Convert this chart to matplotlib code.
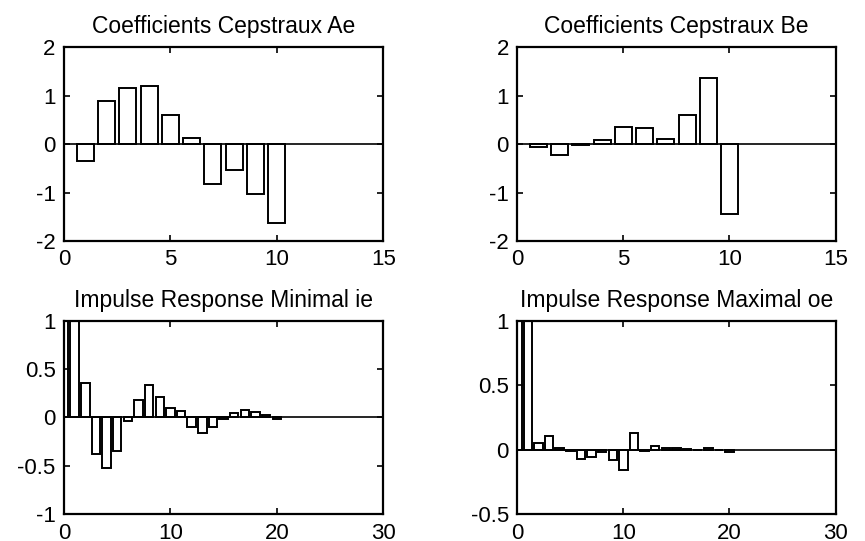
import numpy as np
import matplotlib
matplotlib.use("Agg")
import matplotlib.pyplot as plt

# Valeurs
n_ceps = [1, 2, 3, 4, 5, 6, 7, 8, 9, 10]
ae = [-0.34, 0.89, 1.15, 1.20, 0.60, 0.13, -0.82, -0.53, -1.03, -1.62]
be = [-0.06, -0.22, -0.03, 0.08, 0.36, 0.32, 0.10, 0.60, 1.37, -1.44]

n_imp = list(range(21))
ie = [1.0, 1.3, 0.36, -0.38, -0.52, -0.35, -0.04, 0.18, 0.33, 0.21, 0.10,
      0.07, -0.10, -0.16, -0.10, -0.02, 0.05, 0.08, 0.06, 0.025, -0.015]
oe = [1.0, 1.3, 0.05, 0.11, 0.015, -0.01, -0.075, -0.06, -0.02, -0.08, -0.155,
      0.133, -0.012, 0.027, 0.013, 0.013, 0.003, 0.0, 0.015, 0.0, -0.02]

titres = ["Coefficients Cepstraux Ae", "Coefficients Cepstraux Be",
          "Impulse Response Minimal ie", "Impulse Response Maximal oe"]

plt.rcParams['font.family'] = ['Liberation Sans', 'DejaVu Sans']
plt.rcParams['axes.unicode_minus'] = False

fig = plt.figure(figsize=(8.65, 5.41), dpi=100)

# positions des axes (en fraction de la figure)
positions = [[0.074, 0.5545, 0.369, 0.3586],
             [0.598, 0.5545, 0.368, 0.3586],
             [0.074, 0.0494, 0.369, 0.358],
             [0.598, 0.0494, 0.368, 0.358]]

donnees = [(n_ceps, ae), (n_ceps, be), (n_imp, ie), (n_imp, oe)]
xlims = [(0, 15), (0, 15), (0, 30), (0, 30)]
xticks = [[0, 5, 10, 15], [0, 5, 10, 15], [0, 10, 20, 30], [0, 10, 20, 30]]
ylims = [(-2, 2), (-2, 2), (-1, 1), (-0.5, 1)]
yticks = [[-2, -1, 0, 1, 2], [-2, -1, 0, 1, 2],
          [-1, -0.5, 0, 0.5, 1], [-0.5, 0, 0.5, 1]]
ylabels = [["-2", "-1", "0", "1", "2"], ["-2", "-1", "0", "1", "2"],
           ["-1", "-0.5", "0", "0.5", "1"], ["-0.5", "0", "0.5", "1"]]

for i in range(4):
    ax = fig.add_axes(positions[i])
    x, y = donnees[i]
    ax.bar(x, y, width=0.8, facecolor='white', edgecolor='black', linewidth=1.4)
    ax.axhline(0, color='black', linewidth=1.2)
    ax.set_xlim(*xlims[i])
    ax.set_ylim(*ylims[i])
    ax.set_xticks(xticks[i])
    ax.set_xticklabels([str(t) for t in xticks[i]])
    ax.set_yticks(yticks[i])
    ax.set_yticklabels(ylabels[i])
    ax.tick_params(direction='in', top=True, right=True, length=4, width=1.2,
                   labelsize=16, pad=6)
    for s in ax.spines.values():
        s.set_linewidth(1.6)
    ax.set_title(titres[i], fontsize=16.5, pad=10)

plt.savefig("out.png", dpi=100)
plt.close()
